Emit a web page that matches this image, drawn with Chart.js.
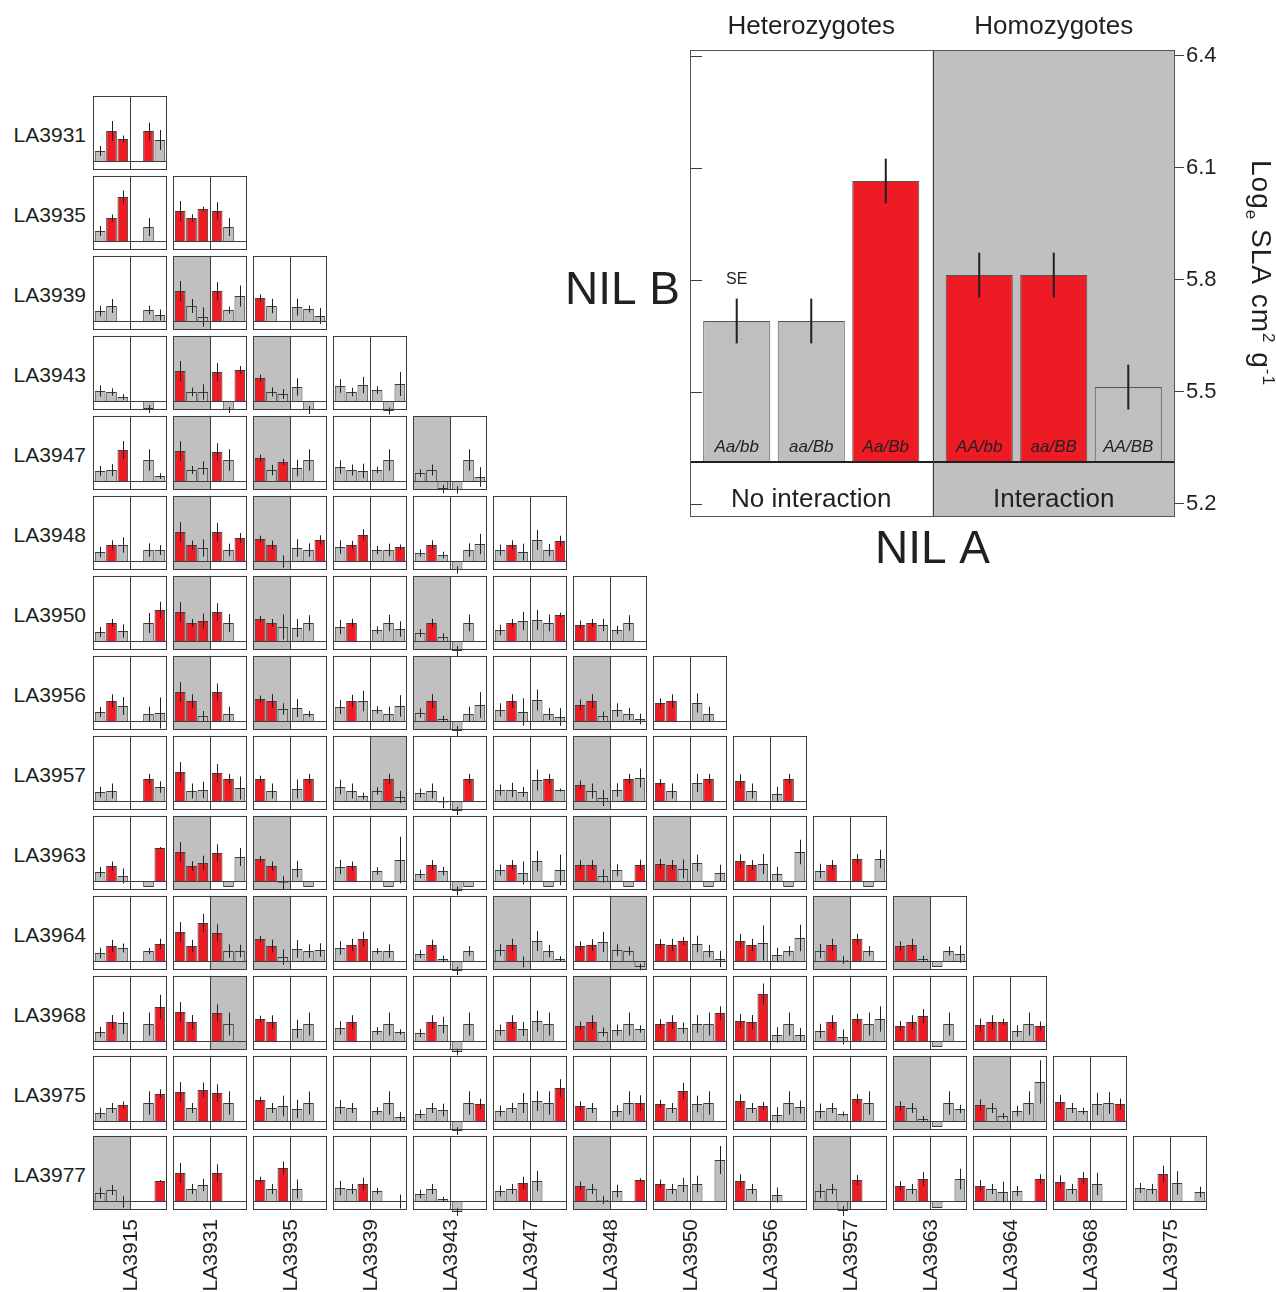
<!DOCTYPE html>
<html lang="en">
<head>
<meta charset="UTF-8">
<title>NIL pairs - SLA</title>
<script src="https://cdn.jsdelivr.net/npm/chart.js"></script>
<style>
  body { margin: 0; background: #fff; }
  #wrap { position: relative; width: 1276px; height: 1292px; overflow: hidden;
          font-family: 'Liberation Sans', Arial, Helvetica, sans-serif; color: #231f20; }
  #wrap canvas { position: absolute; }
  .rowlab { position: absolute; left: 0; width: 86px; text-align: right; font-size: 21px; line-height: 24px; }
  .collab { position: absolute; top: 1219px; font-size: 21px; line-height: 24px;
            writing-mode: vertical-rl; transform: rotate(180deg); }
</style>
</head>
<body>
<div id="wrap"></div>
<script>
// lines: rows are NIL B, columns are NIL A
const rowLines = ['LA3931', 'LA3935', 'LA3939', 'LA3943', 'LA3947', 'LA3948', 'LA3950',
  'LA3956', 'LA3957', 'LA3963', 'LA3964', 'LA3968', 'LA3975', 'LA3977'];
const colLines = ['LA3915', 'LA3931', 'LA3935', 'LA3939', 'LA3943', 'LA3947', 'LA3948',
  'LA3950', 'LA3956', 'LA3957', 'LA3963', 'LA3964', 'LA3968', 'LA3975'];
const genotypes = ['Aa/bb', 'aa/Bb', 'Aa/Bb', 'AA/bb', 'aa/BB', 'AA/BB'];
const halves = ['Heterozygotes', 'Homozygotes'];
const interactionLabels = ['No interaction', 'Interaction'];

// key panel
const insetMeans = [5.69, 5.69, 6.065, 5.813, 5.813, 5.513];
const insetSE = [0.06, 0.06, 0.06, 0.06, 0.06, 0.06];
const insetSig = 'ggrrrg';
const insetBase = 5.3125;
const insetTicks = [5.2, 5.5, 5.8, 6.1, 6.4];
// axis title pieces: text, 0 = normal, -1 = subscript, 1 = superscript
const insetTitle = [['Log', 0], ['e', -1], [' SLA cm', 0], ['2', 1], [' g', 0], ['-1', 1]];

// small panels, one row per NIL B line, bars in genotype order
const meanRows = [
  [[0.10,0.30,0.22,null,0.30,0.21]],
  [[0.10,0.23,0.44,null,0.14,null],[0.30,0.23,0.32,0.30,0.14,null]],
  [[0.10,0.15,null,null,0.11,0.06],[0.30,0.15,0.04,0.30,0.11,0.25],[0.23,0.15,null,0.14,0.12,0.05]],
  [[0.10,0.09,0.04,null,-0.08,null],[0.30,0.09,0.09,0.29,-0.09,0.31],[0.23,0.09,0.07,0.14,-0.09,null],[0.15,0.09,0.16,0.11,-0.10,0.17]],
  [[0.10,0.11,0.31,null,0.21,0.05],[0.30,0.11,0.13,0.29,0.21,null],[0.23,0.11,0.19,0.13,0.21,null],[0.14,0.11,0.10,0.11,0.21,null],
   [0.08,0.11,-0.08,-0.09,0.21,0.04]],
  [[0.09,0.16,0.16,null,0.11,0.11],[0.29,0.16,0.13,0.29,0.11,0.23],[0.22,0.16,-0.005,0.13,0.11,0.21],[0.14,0.16,0.26,0.11,0.11,0.14],
   [0.08,0.16,0.06,-0.09,0.11,0.17],[0.11,0.16,0.09,0.21,0.11,0.20]],
  [[0.09,0.18,0.10,null,0.18,0.31],[0.29,0.18,0.20,0.29,0.18,null],[0.22,0.18,0.14,0.13,0.18,null],[0.14,0.18,null,0.11,0.18,0.12],
   [0.08,0.18,0.04,-0.10,0.18,null],[0.11,0.18,0.20,0.21,0.18,0.26],[0.16,0.18,0.16,0.11,0.18,null]],
  [[0.09,0.20,0.15,null,0.07,0.08],[0.29,0.20,0.05,0.29,0.07,null],[0.22,0.20,0.12,0.13,0.07,null],[0.14,0.20,0.20,0.11,0.07,0.15],
   [0.08,0.20,0.02,-0.10,0.07,0.16],[0.11,0.20,0.09,0.21,0.07,0.04],[0.16,0.20,0.05,0.11,0.07,0.02],[0.18,0.20,null,0.18,0.07,null]],
  [[0.09,0.10,null,null,0.22,0.14],[0.29,0.10,0.11,0.28,0.22,0.13],[0.22,0.10,null,0.12,0.22,null],[0.14,0.10,0.05,0.10,0.22,0.04],
   [0.08,0.10,-0.015,-0.10,0.22,null],[0.11,0.11,0.09,0.21,0.22,0.11],[0.16,0.10,0.03,0.11,0.22,0.23],[0.18,0.10,null,0.18,0.22,null],
   [0.20,0.10,null,0.07,0.22,null]],
  [[0.09,0.15,0.05,null,-0.06,0.33],[0.29,0.15,0.18,0.28,-0.06,0.24],[0.22,0.15,-0.017,0.12,-0.06,null],[0.14,0.15,null,0.10,-0.06,0.21],
   [0.07,0.16,0.10,-0.10,-0.06,null],[0.11,0.16,0.08,0.20,-0.06,0.11],[0.16,0.16,0.05,0.11,-0.06,0.16],[0.17,0.16,0.12,0.18,-0.06,0.08],
   [0.20,0.16,0.17,0.07,-0.06,0.29],[0.10,0.16,null,0.22,-0.06,0.22]],
  [[0.08,0.15,0.13,null,0.10,0.17],[0.29,0.15,0.38,0.28,0.10,0.10],[0.22,0.15,0.04,0.12,0.10,0.11],[0.13,0.16,0.22,0.10,0.10,null],
   [0.07,0.16,0.02,-0.10,0.10,null],[0.11,0.16,-0.01,0.20,0.10,0.02],[0.15,0.16,0.19,0.11,0.10,-0.06],[0.17,0.16,0.20,0.17,0.10,0.02],
   [0.20,0.16,0.18,0.06,0.10,0.23],[0.10,0.16,0.01,0.22,0.10,null],[0.15,0.16,0.02,-0.06,0.10,0.07]],
  [[0.09,0.19,0.18,null,0.17,0.34],[0.29,0.19,null,0.28,0.17,null],[0.22,0.19,null,0.12,0.17,null],[0.13,0.19,null,0.10,0.17,0.09],
   [0.08,0.19,0.16,-0.11,0.17,null],[0.11,0.19,0.12,0.20,0.17,null],[0.15,0.19,0.09,0.11,0.17,0.12],[0.17,0.19,0.13,0.17,0.17,0.28],
   [0.20,0.19,0.47,0.06,0.17,0.06],[0.10,0.19,0.04,0.22,0.17,0.22],[0.15,0.19,0.25,-0.06,0.17,null],[0.16,0.19,0.19,0.10,0.17,0.15]],
  [[0.08,0.13,0.16,null,0.18,0.27],[0.29,0.13,0.31,0.28,0.18,null],[0.21,0.13,0.15,0.12,0.18,null],[0.14,0.13,null,0.10,0.18,0.04],
   [0.07,0.13,0.11,-0.10,0.18,0.17],[0.10,0.13,0.18,0.20,0.18,0.33],[0.15,0.13,null,0.10,0.18,0.18],[0.17,0.13,0.30,0.17,0.18,null],
   [0.20,0.13,0.15,0.06,0.18,0.14],[0.10,0.13,0.07,0.22,0.18,null],[0.15,0.13,0.02,-0.06,0.18,0.12],[0.16,0.13,0.05,0.10,0.18,0.39],
   [0.19,0.13,0.10,0.17,0.18,0.17]],
  [[0.08,0.11,-0.01,null,null,0.20],[0.28,0.12,0.16,0.28,null,null],[0.21,0.12,0.33,0.12,null,null],[0.13,0.12,0.17,0.10,null,-0.005],
   [0.07,0.12,0.02,-0.11,null,null],[0.10,0.12,0.18,0.20,null,null],[0.15,0.12,0.01,0.10,null,0.21],[0.17,0.12,0.16,0.17,null,0.41],
   [0.20,0.12,null,0.06,null,null],[0.10,0.12,-0.10,0.21,null,null],[0.15,0.12,0.22,-0.07,null,0.22],[0.15,0.12,0.09,0.10,null,0.22],
   [0.19,0.12,0.23,0.17,null,null],[0.13,0.12,0.27,0.18,null,0.09]]
];

// standard errors, same layout
const errRows = [
  [[0.05,0.10,0.035,0,0.085,0.10]],
  [[0.05,0.035,0.065,0,0.09,0],[0.10,0.037,0.023,0.087,0.09,0]],
  [[0.053,0.07,0,0,0.043,0.055],[0.10,0.07,0.097,0.088,0.035,0.105],[0.037,0.072,0,0.085,0.035,0.08]],
  [[0.057,0.037,0.028,0,0.04,0],[0.10,0.043,0.077,0.09,0.03,0.04],[0.033,0.045,0.05,0.087,0.04,0],[0.068,0.043,0.082,0.037,0.035,0.12]],
  [[0.052,0.058,0.09,0,0.107,0.028],[0.098,0.04,0.068,0.087,0.108,0],[0.033,0.052,0.032,0.083,0.107,0],[0.067,0.055,0.073,0.033,0.107,0],
   [0.038,0.055,0.042,0.037,0.107,0.098]],
  [[0.053,0.047,0.077,0,0.067,0.05],[0.098,0.045,0.088,0.092,0.063,0.05],[0.033,0.045,0.063,0.088,0.067,0.047],[0.067,0.042,0.058,0.042,0.063,0.025],
   [0.037,0.047,0.033,0.037,0.067,0.102],[0.055,0.047,0.083,0.10,0.062,0.053]],
  [[0.05,0.04,0.067,0,0.10,0.082],[0.098,0.04,0.075,0.087,0.09,0],[0.032,0.04,0.125,0.09,0.078,0],[0.072,0.042,0,0.037,0.082,0.078],
   [0.04,0.042,0.037,0.05,0.083,0],[0.053,0.04,0.092,0.10,0.083,0.023],[0.045,0.04,0.062,0.042,0.078,0]],
  [[0.05,0.067,0.09,0,0.075,0.155],[0.098,0.067,0.05,0.085,0.075,0],[0.035,0.068,0.058,0.09,0.03,0],[0.07,0.062,0.103,0.037,0.075,0.108],
   [0.047,0.068,0.032,0.05,0.075,0.128],[0.067,0.068,0.137,0.105,0.062,0.088],[0.055,0.068,0.045,0.067,0.062,0.053],[0.047,0.067,0,0.095,0.075,0]],
  [[0.053,0.075,0,0,0.052,0.058],[0.10,0.075,0.083,0.09,0.052,0.115],[0.033,0.075,0,0.095,0.052,0],[0.073,0.075,0.035,0.038,0.052,0.062],
   [0.045,0.075,0.058,0.042,0.052,0],[0.055,0.072,0.05,0.105,0.052,0.015],[0.045,0.075,0.08,0.067,0.052,0.095],[0.04,0.075,0,0.092,0.052,0],
   [0.068,0.075,0,0.073,0.052,0]],
  [[0.05,0.045,0.075,0,0,0.01],[0.10,0.048,0.073,0.087,0,0.09],[0.032,0.045,0.065,0.083,0,0],[0.072,0.045,0,0.038,0,0.233],
   [0.042,0.048,0.042,0.045,0,0],[0.055,0.048,0.115,0.103,0,0.153],[0.048,0.048,0.067,0.058,0,0.053],[0.05,0.05,0.095,0.083,0,0.083],
   [0.068,0.048,0.10,0.073,0,0.123],[0.072,0.048,0,0.05,0,0.092]],
  [[0.053,0.062,0.045,0,0.03,0.053],[0.10,0.062,0.092,0.088,0.067,0.062],[0.032,0.063,0.077,0.088,0.067,0.067],[0.068,0.062,0.073,0.028,0.067,0],
   [0.04,0.053,0.033,0.042,0.048,0],[0.058,0.062,0.055,0.10,0.062,0.028],[0.047,0.058,0.102,0.058,0.045,0.033],[0.048,0.062,0.04,0.083,0.062,0.082],
   [0.07,0.062,0.175,0.072,0.048,0.133],[0.072,0.062,0.038,0.052,0.048,0],[0.048,0.062,0.032,0,0.045,0.087]],
  [[0.052,0.07,0.112,0,0.115,0.122],[0.10,0.07,0,0.087,0.115,0],[0.033,0.067,0,0.092,0.115,0],[0.068,0.068,0,0.038,0.115,0.028],
   [0.042,0.068,0.083,0.033,0.115,0],[0.055,0.068,0.07,0.105,0.115,0],[0.045,0.068,0.045,0.055,0.115,0.037],[0.048,0.068,0.055,0.088,0.115,0.067],
   [0.07,0.07,0.105,0.077,0.115,0.07],[0.072,0.068,0.075,0.053,0.115,0.127],[0.05,0.068,0.07,0,0.115,0],[0.065,0.068,0.032,0.058,0.115,0.045]],
  [[0.053,0.05,0.035,0,0.117,0.047],[0.10,0.05,0.075,0.087,0.117,0],[0.033,0.05,0.103,0.092,0.115,0],[0.07,0.05,0,0.038,0.117,0.05],
   [0.042,0.05,0.063,0.038,0.117,0.053],[0.055,0.05,0.10,0.10,0.117,0.088],[0.047,0.05,0,0.058,0.117,0.077],[0.042,0.05,0.082,0.083,0.117,0],
   [0.068,0.05,0.04,0.077,0.117,0.065],[0.075,0.05,0.025,0.05,0.117,0],[0.048,0.05,0.03,0,0.117,0.042],[0.058,0.05,0.03,0.053,0.117,0.217],
   [0.07,0.05,0.033,0.112,0.108,0.055]],
  [[0.055,0.05,0.058,0,0,0.01],[0.10,0.05,0.062,0.087,0,0],[0.033,0.05,0.065,0.095,0,0],[0.072,0.05,0.063,0.03,0,0.07],
   [0.042,0.05,0.022,0.038,0,0],[0.055,0.05,0.063,0.102,0,0],[0.045,0.05,0.042,0.063,0,0.018],[0.045,0.05,0.072,0.083,0,0.14],
   [0.068,0.05,0,0.075,0,0],[0.072,0.05,0.05,0.05,0,0],[0.048,0.05,0.07,0,0,0.103],[0.058,0.05,0.103,0.05,0,0.048],
   [0.067,0.05,0.06,0.112,0,0],[0.05,0.05,0.082,0.117,0,0.053]]
];

// r = significant, g = not significant, - = missing
const sigRows = [
  ['grr-rg'],
  ['grr-g-','rrrrg-'],
  ['gg--gg','rggrgg','rg-ggg'],
  ['ggg-g-','rggrgr','rgggg-','gggggg'],
  ['ggr-gg','rggrg-','rgrgg-','ggggg-','gggggg'],
  ['grg-gg','rrgrgr','rrgggr','grrggr','grgggg','grgggr'],
  ['grg-gr','rrrrg-','rrggg-','gr-ggg','grggg-','grgggr','rrggg-'],
  ['grg-gg','rrgrg-','rrggg-','grgggg','grgggg','grgggg','rrgggg','rr-gg-'],
  ['gg--rg','rggrrg','rg-gr-','ggggrg','ggggr-','ggggrg','rgggrg','rg-gr-','rg-gr-'],
  ['grg-gr','rrrrgg','rrggg-','gr-ggg','grggg-','grgggg','rrgggr','rrgggg','rrgggg','gr-rgg'],
  ['grg-gr','rrrrgg','rrgggg','grrgg-','grggg-','grgggg','rrgggg','rrrggg','rrgggg','grgrg-','rrgggg'],
  ['grg-gr','rr-rg-','rr-gg-','gr-ggg','grggg-','grggg-','rrgggg','rrgggr','rrrggg','grgrgg','rrrgg-','rrrggr'],
  ['ggr-gr','rgrrg-','rgggg-','gg-ggg','gggggr','gggggr','rg-ggr','rgrgg-','rgrggg','gggrg-','rggggg','rggggg','rggggr'],
  ['ggg--r','rggr--','rgrg--','ggrg-g','gggg--','ggrg--','rggg-r','rggg-g','rg-g--','gggr--','rgrg-g','rggg-r','rgrg--','ggrg-g']
];

// interaction found in the heterozygote (L) or homozygote (R) half
const shadeRows = ['.', '..', '.L.', '.LL.', '.LL.L', '.LL...', '.LL.L..', '.LL.L.L.', '...R..L..',
  '.LL...LL..', '.RL..LR..LL', '.R....L.....', '..........LL.', 'L.....L..L....'];

const RED = '#ed1c24', GREY = '#bfbfbf', SHADE = '#c0c0c0', INK = '#231f20', FRAME = '#3c3c3c';
const FONT = "'Liberation Sans', Arial, Helvetica, sans-serif";
const colour = c => c === 'r' ? RED : GREY;

Chart.defaults.font.family = FONT;
Chart.defaults.color = INK;
Chart.defaults.animation = false;

const wrap = document.getElementById('wrap');
const PAD = 6, SIZE = 74, STEP = 80, X0 = 93, Y0 = 96;

function panelPlugin(err, shade) {
  return {
    id: 'panelDeco',
    beforeDatasetsDraw(chart) {
      const { ctx, chartArea: a } = chart;
      const mid = (a.left + a.right) / 2;
      if (shade === '.') return;
      ctx.save();
      ctx.fillStyle = SHADE;
      if (shade === 'L') ctx.fillRect(a.left, a.top, mid - a.left, a.bottom - a.top);
      else ctx.fillRect(mid, a.top, a.right - mid, a.bottom - a.top);
      ctx.restore();
    },
    afterDatasetsDraw(chart) {
      const { ctx, chartArea: a, scales: { y } } = chart;
      const mid = Math.round((a.left + a.right) / 2) + 0.5;
      ctx.save();
      ctx.lineWidth = 1;
      ctx.strokeStyle = INK;
      chart.data.datasets.forEach((ds, i) => {
        chart.getDatasetMeta(i).data.forEach((bar, j) => {
          const v = ds.data[j], e = err[i + 3 * j];
          if (v == null || !e) return;
          const x = Math.round(bar.x) + 0.5;
          ctx.beginPath();
          ctx.moveTo(x, y.getPixelForValue(v + e));
          ctx.lineTo(x, y.getPixelForValue(v - e));
          ctx.stroke();
        });
      });
      const y0 = Math.round(y.getPixelForValue(0)) + 0.5;
      ctx.strokeStyle = FRAME;
      ctx.beginPath();
      ctx.moveTo(a.left, y0); ctx.lineTo(a.right, y0);
      ctx.moveTo(mid, a.top); ctx.lineTo(mid, a.bottom);
      ctx.stroke();
      ctx.strokeRect(a.left + 0.5, a.top + 0.5, a.right - a.left - 1, a.bottom - a.top - 1);
      ctx.restore();
    }
  };
}

meanRows.forEach((row, i) => {
  const lab = document.createElement('div');
  lab.className = 'rowlab';
  lab.textContent = rowLines[i];
  lab.style.top = (Y0 + STEP * i + 27) + 'px';
  wrap.appendChild(lab);

  row.forEach((m, j) => {
    const s = sigRows[i][j];
    const cv = document.createElement('canvas');
    cv.width = SIZE + 2 * PAD;
    cv.height = SIZE + 2 * PAD;
    cv.style.left = (X0 + STEP * j - PAD) + 'px';
    cv.style.top = (Y0 + STEP * i - PAD) + 'px';
    wrap.appendChild(cv);
    new Chart(cv, {
      type: 'bar',
      data: {
        labels: halves,
        datasets: [0, 1, 2].map(k => ({
          label: genotypes[k] + ' | ' + genotypes[k + 3],
          data: [m[k], m[k + 3]],
          backgroundColor: [colour(s[k]), colour(s[k + 3])],
          borderColor: FRAME,
          borderWidth: 1,
          categoryPercentage: 0.92,
          barPercentage: 0.94,
          clip: false
        }))
      },
      options: {
        responsive: false,
        events: [],
        layout: { padding: PAD },
        plugins: { legend: { display: false }, tooltip: { enabled: false } },
        scales: {
          x: { display: false },
          y: { display: false, min: -0.09, max: 0.65 }
        }
      },
      plugins: [panelPlugin(errRows[i][j], shadeRows[i][j])]
    });
  });
});

colLines.forEach((name, j) => {
  const lab = document.createElement('div');
  lab.className = 'collab';
  lab.textContent = name;
  lab.style.left = (X0 + STEP * j + 37 - 12) + 'px';
  wrap.appendChild(lab);
});

// key panel at top right
const insetPlugin = {
  id: 'insetDeco',
  beforeDatasetsDraw(chart) {
    const { ctx, chartArea: a } = chart;
    const mid = (a.left + a.right) / 2;
    ctx.save();
    ctx.fillStyle = SHADE;
    ctx.fillRect(mid, a.top, a.right - mid, a.bottom - a.top);
    ctx.restore();
  },
  afterDatasetsDraw(chart) {
    const { ctx, chartArea: a, scales: { x, y } } = chart;
    const base = y.getPixelForValue(insetBase);
    const mid = Math.round((a.left + a.right) / 2) + 0.5;
    ctx.save();
    chart.data.datasets.forEach((ds, i) => {
      chart.getDatasetMeta(i).data.forEach((bar, j) => {
        const g = i + 3 * j, v = insetMeans[g], e = insetSE[g];
        ctx.strokeStyle = INK;
        ctx.lineWidth = 2;
        ctx.beginPath();
        ctx.moveTo(bar.x, y.getPixelForValue(v + e));
        ctx.lineTo(bar.x, y.getPixelForValue(v - e));
        ctx.stroke();
        ctx.fillStyle = INK;
        ctx.textAlign = 'center';
        ctx.textBaseline = 'alphabetic';
        ctx.font = 'italic 17px ' + FONT;
        ctx.fillText(genotypes[g], bar.x, base - 10);
        if (g === 0) {
          ctx.font = '16px ' + FONT;
          ctx.fillText('SE', bar.x, y.getPixelForValue(v + e) - 15);
        }
      });
    });
    ctx.strokeStyle = INK;
    ctx.lineWidth = 2;
    ctx.beginPath();
    ctx.moveTo(a.left, base); ctx.lineTo(a.right, base);
    ctx.stroke();
    ctx.lineWidth = 1;
    ctx.strokeStyle = FRAME;
    ctx.beginPath();
    insetTicks.forEach(t => {
      const py = Math.round(y.getPixelForValue(t)) + 0.5;
      ctx.moveTo(a.left, py); ctx.lineTo(a.left + 12, py);
    });
    ctx.moveTo(mid, a.top); ctx.lineTo(mid, a.bottom);
    ctx.stroke();
    ctx.strokeStyle = '#555';
    ctx.strokeRect(a.left + 0.5, a.top + 0.5, a.right - a.left - 1, a.bottom - a.top - 1);
    ctx.fillStyle = INK;
    ctx.font = '26px ' + FONT;
    ctx.textAlign = 'center';
    interactionLabels.forEach((t, k) => ctx.fillText(t, x.getPixelForValue(k), 507));
    ctx.font = '46px ' + FONT;
    ctx.textAlign = 'right';
    ctx.fillText('NIL B', a.left - 10, 304);
    ctx.textAlign = 'center';
    ctx.fillText('NIL A', (a.left + a.right) / 2, 563);

    // value axis title, read top to bottom, with sub- and superscripts
    ctx.translate(y.right - 24, y.top + 110);
    ctx.rotate(Math.PI / 2);
    ctx.textAlign = 'left';
    ctx.letterSpacing = '1px';
    let pos = 0;
    insetTitle.forEach(([t, kind]) => {
      ctx.font = (kind ? 17 : 28) + 'px ' + FONT;
      ctx.fillText(t, pos, kind === -1 ? 6 : kind === 1 ? -11 : 0);
      pos += ctx.measureText(t).width;
    });
    ctx.restore();
  }
};

const inset = document.createElement('canvas');
inset.width = 736;
inset.height = 580;
inset.style.left = '540px';
inset.style.top = '0px';
wrap.appendChild(inset);
new Chart(inset, {
  type: 'bar',
  data: {
    labels: halves,
    datasets: [0, 1, 2].map(k => ({
      label: genotypes[k] + ' | ' + genotypes[k + 3],
      data: [insetMeans[k], insetMeans[k + 3]],
      backgroundColor: [colour(insetSig[k]), colour(insetSig[k + 3])],
      borderColor: '#555',
      borderWidth: 1,
      base: insetBase,
      categoryPercentage: 0.922,
      barPercentage: 0.9
    }))
  },
  options: {
    responsive: false,
    events: [],
    layout: { padding: { left: 150, right: 0, top: 0, bottom: 63 } },
    plugins: { legend: { display: false }, tooltip: { enabled: false } },
    scales: {
      x: {
        position: 'top',
        grid: { display: false, drawTicks: false },
        border: { display: false },
        ticks: { font: { size: 26 }, padding: 8, maxRotation: 0, autoSkip: false },
        afterFit: s => { s.height = 50; }
      },
      y: {
        position: 'right',
        min: 5.165,
        max: 6.416,
        afterBuildTicks: s => { s.ticks = insetTicks.map(v => ({ value: v })); },
        grid: { drawOnChartArea: false, tickLength: 9, color: FRAME },
        border: { display: false },
        ticks: { font: { size: 22 }, padding: 2, callback: v => v.toFixed(1) },
        afterFit: s => { s.width = 101; }
      }
    }
  },
  plugins: [insetPlugin]
});
</script>
</body>
</html>
